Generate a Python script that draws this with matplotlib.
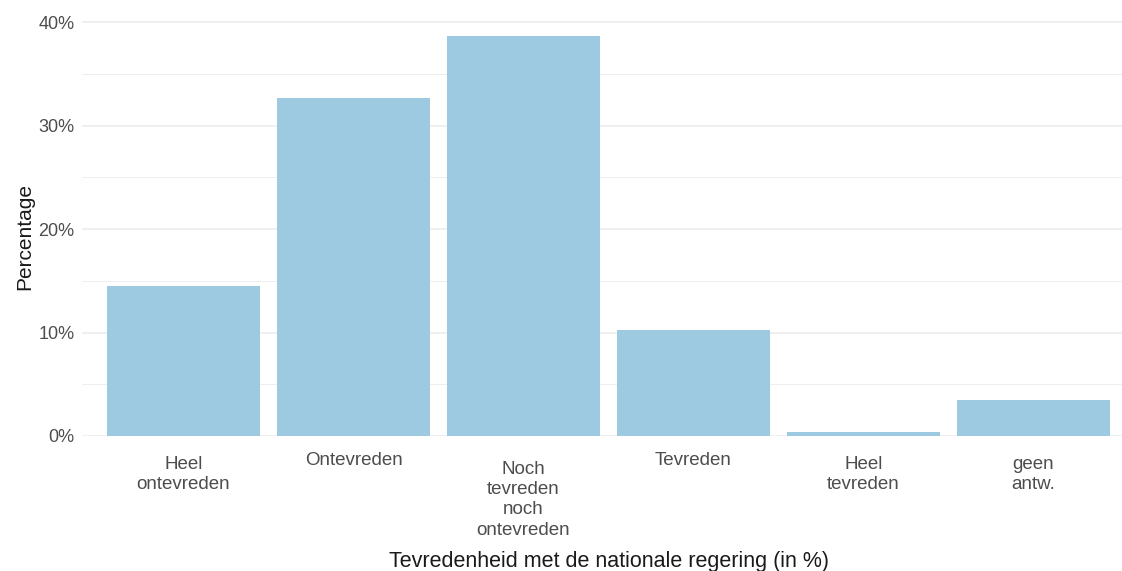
"""Tevredenheid met de nationale regering - bar chart"""

import matplotlib
matplotlib.use("Agg")
import matplotlib.pyplot as plt
from matplotlib.ticker import FuncFormatter, MultipleLocator

plt.rcParams['font.family'] = ['Liberation Sans', 'DejaVu Sans']

# Data
categories = ["Heel\nontevreden", "Ontevreden", "Noch\ntevreden\nnoch\nontevreden",
              "Tevreden", "Heel\ntevreden", "geen\nantw."]
percentages = [14.5, 32.7, 38.65, 10.25, 0.4, 3.5]
y_ticks = [0, 10, 20, 30, 40]

bar_color = "#9ecae1"
grid_color = "#ebebeb"
text_color = "#4d4d4d"

fig = plt.figure(figsize=(11.22, 5.71), dpi=100)
W, H = 1122, 571
# panel in pixel coords: x 81.5..1135.5, y 16..436 (from top)
ax = fig.add_axes([81.5 / W, (H - 436) / H, (1135.5 - 81.5) / W, 420 / H])

x = range(len(categories))
ax.bar(x, percentages, width=0.9, color=bar_color, zorder=2)

ax.set_xlim(-0.6, len(categories) - 0.4)
ax.set_ylim(0, 40.58)
ax.set_yticks(y_ticks)
ax.yaxis.set_minor_locator(MultipleLocator(5))
ax.yaxis.set_major_formatter(FuncFormatter(lambda v, p: f"{v:.0f}%"))
ax.set_xticks(list(x))
ax.set_xticklabels(categories, fontsize=13.5, color=text_color, linespacing=1.25)

ax.grid(axis='y', which='major', color=grid_color, linewidth=1.1, zorder=0)
ax.grid(axis='y', which='minor', color=grid_color, linewidth=0.6, zorder=0)
ax.grid(axis='x', visible=False)
for s in ax.spines.values():
    s.set_visible(False)

ax.tick_params(axis='both', which='both', length=0)
ax.tick_params(axis='y', labelsize=13, labelcolor=text_color, pad=5)

# ggplot-style vertical centering of multi-line labels
pads = [14.4, 11.5, 18, 11.5, 14.4, 14.4]
for tick, p in zip(ax.xaxis.get_major_ticks(), pads):
    tick.set_pad(p)

ax.set_ylabel("Percentage", fontsize=15, color="#1a1a1a", va='center')
ax.yaxis.set_label_coords(-0.054, 0.476)
ax.set_xlabel("Tevredenheid met de nationale regering (in %)", fontsize=15.5,
              color="#1a1a1a", va='center')
ax.xaxis.set_label_coords(0.5, -0.298)

fig.savefig("out.png", dpi=100, facecolor="white")
